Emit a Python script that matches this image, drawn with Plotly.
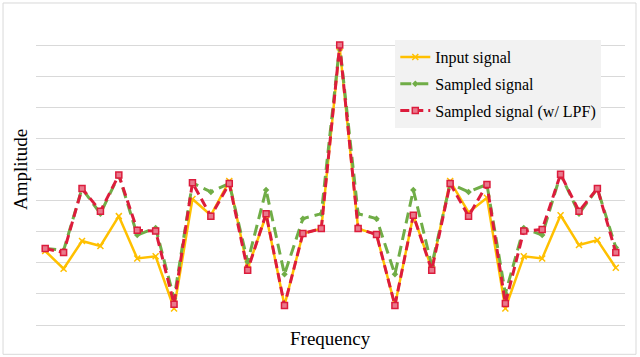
import plotly.graph_objects as go

# frequency bins (no tick labels shown)
bins = list(range(32))

input_signal = [2.38, 1.81, 2.70, 2.54, 3.50, 2.14, 2.21, 0.53, 4.05, 3.53,
                4.63, 1.81, 3.53, 0.63, 2.94, 3.10, 8.93, 3.10, 2.91, 0.63,
                3.53, 1.81, 4.63, 3.62, 4.09, 0.53, 2.21, 2.14, 3.53, 2.57,
                2.73, 1.84]
sampled = [2.46, 2.40, 4.39, 3.58, 4.82, 2.89, 3.12, 0.85, 4.57, 4.28,
           4.55, 2.03, 4.34, 1.63, 3.42, 3.58, 9.00, 3.58, 3.42, 1.63,
           4.34, 1.92, 4.55, 4.28, 4.52, 1.01, 3.12, 2.89, 4.85, 3.58,
           4.39, 2.49]
sampled_lpf = [2.46, 2.33, 4.39, 3.66, 4.82, 3.05, 3.02, 0.67, 4.57, 3.50,
               4.55, 1.76, 3.58, 0.63, 2.94, 3.10, 9.00, 3.10, 2.91, 0.63,
               3.53, 1.76, 4.55, 3.50, 4.52, 0.69, 3.02, 3.07, 4.85, 3.66,
               4.39, 2.33]

font = "Liberation Serif, Times New Roman, serif"

fig = go.Figure()
fig.add_trace(go.Scatter(
    x=bins, y=input_signal, name="Input signal", mode="lines+markers",
    line=dict(color="#FFC000", width=2.5),
    marker=dict(symbol="x-thin", size=6, line=dict(color="#FFC000", width=1.5)),
))
fig.add_trace(go.Scatter(
    x=bins, y=sampled, name="Sampled signal", mode="lines+markers",
    line=dict(color="#70AD47", width=3, dash="11px,6px"),
    marker=dict(symbol="diamond", size=5, color="#70AD47"),
))
fig.add_trace(go.Scatter(
    x=bins, y=sampled_lpf, name="Sampled signal (w/ LPF)", mode="lines+markers",
    line=dict(color="#DC1C3C", width=3, dash="9px,5px"),
    marker=dict(symbol="square", size=6, color="#E8798C",
                line=dict(color="#DC1C3C", width=1.5)),
))

fig.update_layout(
    width=640, height=357,
    margin=dict(l=36, r=15, t=14, b=32),
    paper_bgcolor="white", plot_bgcolor="white",
    font=dict(family=font, color="#000000"),
    showlegend=True,
    legend=dict(
        x=0.61, y=0.916, xanchor="left", yanchor="top",
        bgcolor="#F2F2F2", font=dict(size=16, family=font),
        itemwidth=30, tracegroupgap=3,
    ),
    xaxis=dict(range=[-0.5, 31.5], showticklabels=False, showgrid=False,
               zeroline=False, showline=False, ticks=""),
    yaxis=dict(range=[0, 10], dtick=1, showticklabels=False, showgrid=True,
               gridcolor="#D9D9D9", gridwidth=1, zeroline=True,
               zerolinecolor="#D9D9D9", zerolinewidth=1, ticks=""),
    annotations=[
        dict(text="Amplitude", xref="paper", yref="paper", x=-0.005, y=0.5,
             xanchor="right", yanchor="middle", textangle=-90,
             showarrow=False, font=dict(size=19, family=font)),
        dict(text="Frequency", xref="paper", yref="paper", x=0.5, y=-0.002,
             xanchor="center", yanchor="top",
             showarrow=False, font=dict(size=19, family=font)),
    ],
    shapes=[dict(type="rect", xref="paper", yref="paper",
                 x0=-0.056, x1=1.0187, y0=-0.0943, y1=1.0354,
                 line=dict(color="#D9D9D9", width=1), layer="below")],
)
for i, tr in enumerate(fig.data):
    tr.legendgroup = f"g{i}"

fig.write_html("out.html", config={"displayModeBar": False},
               post_script="document.body.style.margin='0';")
